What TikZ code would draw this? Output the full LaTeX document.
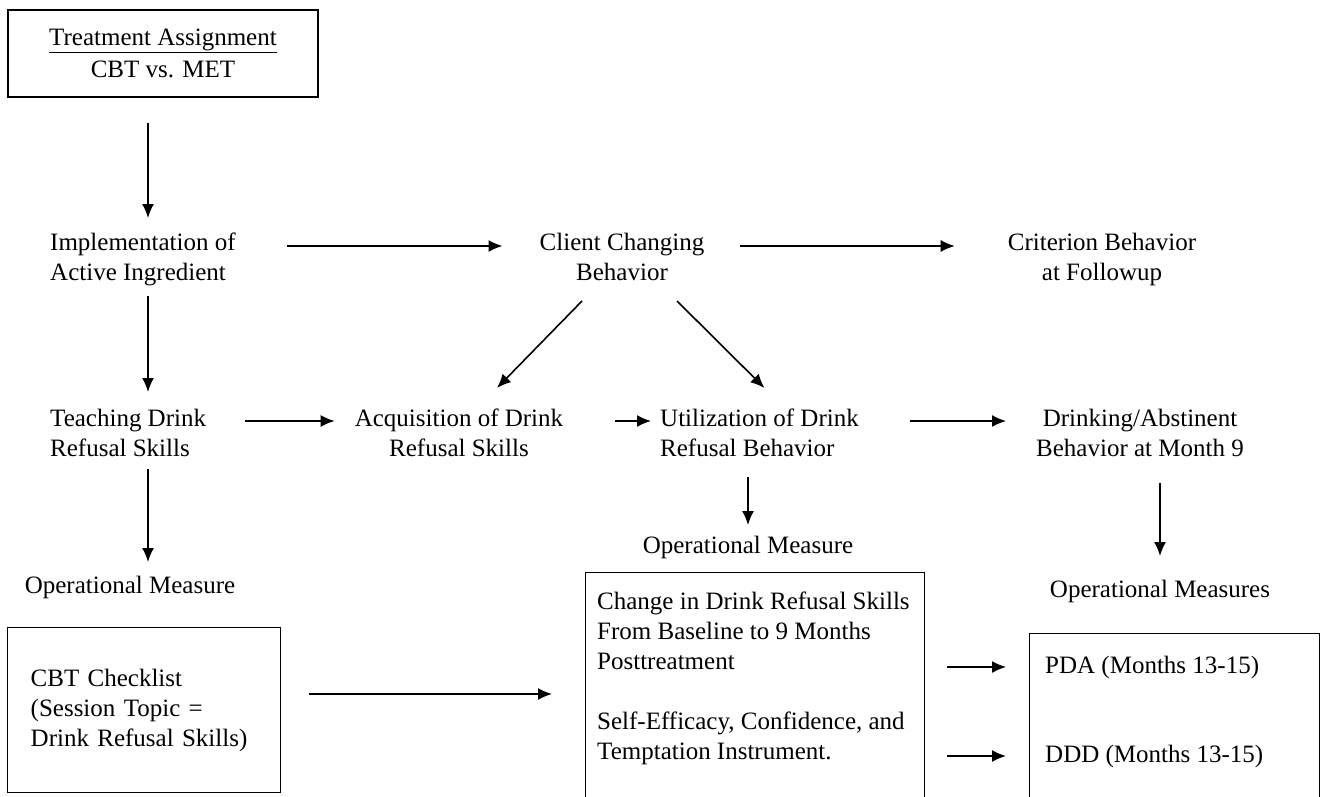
\documentclass[tikz,border=0pt]{standalone}
\usepackage{fontspec}
\setmainfont{Liberation Serif}
\usetikzlibrary{arrows.meta}

\begin{document}
\begin{tikzpicture}[x=1pt,y=-1pt,
    every node/.style={font=\fontsize{25}{30}\selectfont,inner sep=0pt},
    lbl/.style={align=center,anchor=north},
    frame/.style={draw,line width=1.4pt},
    arr/.style={-{Latex[length=14pt,width=12pt]},line width=1.6pt}]
  \useasboundingbox (0,0) rectangle (1324,797);
  \clip (0,0) rectangle (1324,797);

  % concepts
  \node[frame,align=center,minimum width=310pt,minimum height=87pt] (assign) at (163,53.5)
    {\underline{Treatment Assignment}\\[2pt]CBT vs. MET};
  \node[align=left,anchor=north west] (impl) at (50,233) {Implementation of\\Active Ingredient};
  \node[lbl] (client) at (622,233) {Client Changing\\Behavior};
  \node[lbl] (crit) at (1102,233) {Criterion Behavior\\at Followup};

  \node[align=left,anchor=north west] (teach) at (50,409) {Teaching Drink\\Refusal Skills};
  \node[lbl] (acq) at (459,409) {Acquisition of Drink\\Refusal Skills};
  \node[align=left,anchor=north west] (util) at (660,409) {Utilization of Drink\\Refusal Behavior};
  \node[lbl] (drink) at (1140,409) {Drinking/Abstinent\\Behavior at Month 9};

  \node[lbl] (op1) at (130,576) {Operational Measure};
  \node[lbl] (op2) at (748,536) {Operational Measure};
  \node[lbl] (op3) at (1160,580) {Operational Measures};

  % measures
  \node[frame,anchor=north west,align=left,text width=227pt,inner xsep=23pt,
        minimum height=165pt] (check) at (7,627)
    {CBT Checklist\\(Session Topic =\\Drink Refusal Skills)};
  \node[frame,anchor=north west,minimum width=339pt,minimum height=260pt] (change) at (585,572) {};
  \node[align=left,anchor=north west] (changetxt) at ([xshift=12pt,yshift=-20pt]change.north west)
    {Change in Drink Refusal Skills\\From Baseline to 9 Months\\Posttreatment\\[30pt]%
     Self-Efficacy, Confidence, and\\Temptation Instrument.};
  \node[frame,anchor=north west,minimum width=290pt,minimum height=220pt] (outcome) at (1029,633) {};
  \node[anchor=west] (pda) at (1045,667) {PDA (Months 13-15)};
  \node[anchor=west] (ddd) at (1045,756) {DDD (Months 13-15)};

  \coordinate (lcol) at (148,0);
  \coordinate (row1) at (0,246);
  \coordinate (row2) at (0,421);
  \coordinate (row3) at (0,694);

  % arrows
  \draw[arr,shorten <=25pt,shorten >=15pt] (assign.south -| lcol) -- (impl.north -| lcol);
  \draw[arr,shorten <=51pt,shorten >=37pt] (impl.east |- row1) -- (client.west |- row1);
  \draw[arr,shorten <=36pt,shorten >=53pt] (client.east |- row1) -- (crit.west |- row1);
  \draw[arr,shorten <=10pt,shorten >=17pt] (impl.south -| lcol) -- (teach.north -| lcol);
  \draw[arr] ([xshift=-40pt,yshift=-20pt]client.south) -- ([xshift=38pt,yshift=21pt]acq.north);
  \draw[arr] ([xshift=55pt,yshift=-20pt]client.south) -- ([xshift=5pt,yshift=21pt]util.north);
  \draw[arr,shorten <=39pt,shorten >=20pt] (teach.east |- row2) -- (acq.west |- row2);
  \draw[arr,shorten <=52pt,shorten >=9pt] (acq.east |- row2) -- (util.west |- row2);
  \draw[arr,shorten <=51pt,shorten >=30pt] (util.east |- row2) -- (drink.west |- row2);
  \draw[arr,shorten <=12pt,shorten >=14pt] (teach.south -| lcol) -- (op1.north -| lcol);
  \draw[arr,shorten <=20pt,shorten >=11pt] (util.south -| op2.north) -- (op2.north);
  \draw[arr,shorten <=26pt,shorten >=24pt] (drink.south -| op3.north) -- (op3.north);
  \draw[arr,shorten <=28pt,shorten >=33pt] (check.east |- row3) -- (change.west |- row3);
  \draw[arr,shorten <=22pt,shorten >=39pt] (change.east |- pda.west) -- (pda.west);
  \draw[arr,shorten <=22pt,shorten >=39pt] (change.east |- ddd.west) -- (ddd.west);
\end{tikzpicture}
\end{document}
